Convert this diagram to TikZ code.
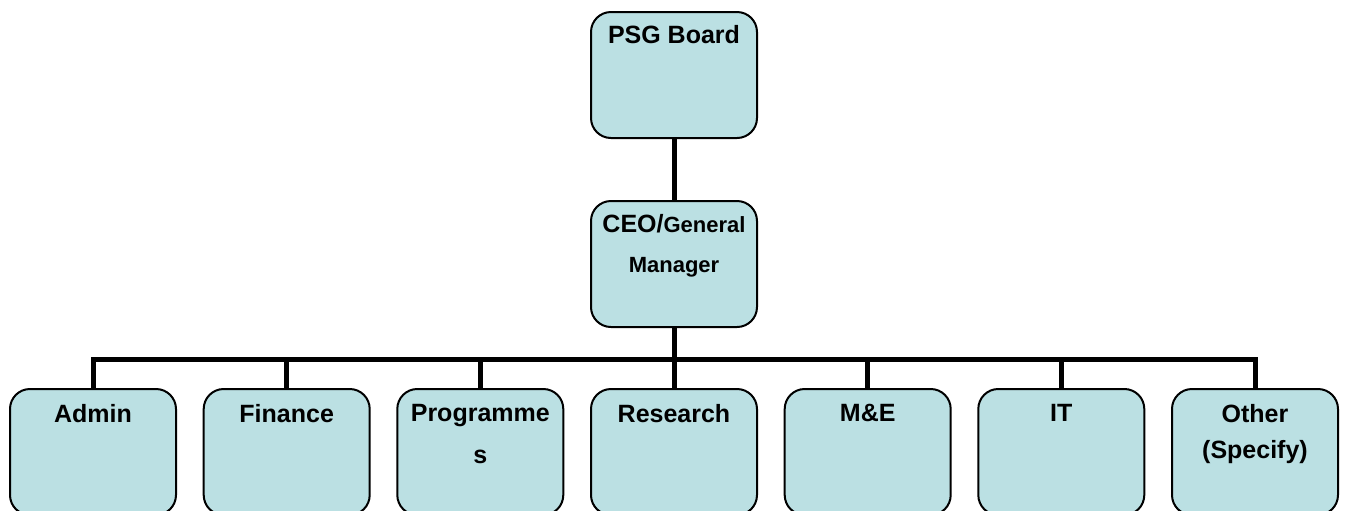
\documentclass[tikz,border=0pt]{standalone}
\usepackage{fontspec}
\setmainfont{Liberation Sans}
\usetikzlibrary{positioning}
\definecolor{boxfill}{RGB}{187,224,227}
\tikzset{
  unit/.style={draw, fill=boxfill, line width=1pt, rounded corners=10pt,
    minimum width=83pt, minimum height=63pt, inner sep=0pt},
  title/.style={align=center, inner sep=0pt,
    font=\fontsize{12.5}{20}\selectfont\bfseries},
  link/.style={line width=2.5pt}
}
\begin{document}
\begin{tikzpicture}[x=0.5pt, y=-0.5pt]
    \useasboundingbox (0,0) rectangle (1346,510);

    % boxes
    \node[unit] (board)    at (674,75)    {};
    \node[unit] (ceo)      at (674,264)   {};
    \node[unit] (admin)    at (93,452)    {};
    \node[unit] (finance)  at (286.7,452) {};
    \node[unit] (prog)     at (480.3,452) {};
    \node[unit] (research) at (674,452)   {};
    \node[unit] (me)       at (867.7,452) {};
    \node[unit] (it)       at (1061.3,452) {};
    \node[unit] (other)    at (1255,452)  {};

    % titles
    \node[title, below=7pt of board.north]    (board-t)    {PSG Board};
    \node[title, below=7pt of ceo.north]      (ceo-t)
        {CEO/{\fontsize{11}{20}\selectfont General}\\\fontsize{11}{20}\selectfont Manager};
    \node[title, below=8pt of admin.north]    (admin-t)    {Admin};
    \node[title, below=8pt of finance.north]  (finance-t)  {Finance};
    \node[title, below=8pt of prog.north]     (prog-t)     {Programme\\[1pt]s};
    \node[title, below=8pt of research.north] (research-t) {Research};
    \node[title, below=8pt of me.north]       (me-t)       {M\&E};
    \node[title, below=8pt of it.north]       (it-t)       {IT};
    \node[title, below=8pt of other.north]    (other-t)    {Other\\[-2pt](Specify)};

    % connectors
    \coordinate (bus) at (674,359);
    \draw[link] (board) -- (ceo);
    \draw[link] (ceo) -- (bus);
    \draw[link] (admin.north) |- (bus) -| (other.north);
    \foreach \n in {finance,prog,research,me,it}
        \draw[link] (\n.north) -- (\n.north |- bus);
\end{tikzpicture}
\end{document}
